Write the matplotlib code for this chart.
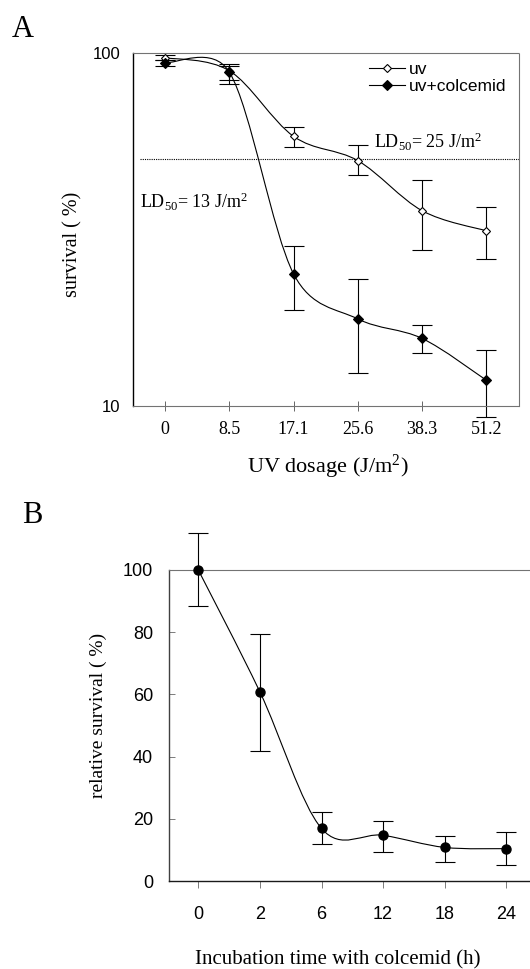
#!/usr/bin/env python3

# UV survival (A) and colcemid incubation survival (B), two stacked panels

import numpy as np
import matplotlib
matplotlib.use('Agg')
from matplotlib import pyplot as plt
from matplotlib.path import Path
from matplotlib.patches import PathPatch
from matplotlib.lines import Line2D
from matplotlib.ticker import NullLocator

params = {
    'font.family': 'Liberation Serif',
    'mathtext.fontset': 'custom',
    'mathtext.rm': 'Liberation Serif',
    'mathtext.it': 'Liberation Serif:italic',
    'mathtext.bf': 'Liberation Serif:bold',
    'figure.dpi': 100,
    'lines.linewidth': 0.8,
}
matplotlib.rcParams.update(params)

# ---- panel A data (survival %, log axis)
dose_labels = ['0', '8.5', '17.1', '25.6', '38.3', '51.2']
uv_surv = [97.0, 89.0, 58.0, 49.5, 35.7, 31.3]
uv_low = [95.5, 81.5, 54.2, 45.1, 27.7, 26.0]
uv_high = [98.7, 92.0, 61.8, 54.7, 43.5, 36.6]
colc_surv = [93.9, 88.2, 23.6, 17.6, 15.5, 11.8]
colc_low = [92.0, 83.8, 18.7, 12.4, 14.1, 9.3]
colc_high = [95.8, 92.9, 28.4, 22.8, 16.9, 14.4]
ld50_level = 50
ld50_uv = 25
ld50_colc = 13

# ---- panel B data (relative survival %)
time_labels = ['0', '2', '6', '12', '18', '24']
rel_surv = [100.0, 60.8, 16.9, 14.7, 10.8, 10.4]
rel_low = [88.4, 41.8, 11.8, 9.4, 6.1, 5.1]
rel_high = [111.8, 79.4, 22.1, 19.4, 14.5, 15.7]

W, H = 530., 969.


def fx(px):
    return px / W


def fy(py):
    return 1. - py / H


def smooth_path(ax, xs, ys):
    # spreadsheet-like "smoothed line": bezier segments built in display space,
    # handle length 1/6 of the chord, capped at half the segment length
    pts = ax.transData.transform(np.column_stack([xs, ys]))
    P = np.vstack([pts[0], pts, pts[-1]])
    verts = [pts[0]]
    codes = [Path.MOVETO]
    for i in range(len(pts) - 1):
        p0, p1, p2, p3 = P[i], P[i+1], P[i+2], P[i+3]
        d12 = np.hypot(*(p2 - p1))
        d02 = np.hypot(*(p2 - p0))
        d13 = np.hypot(*(p3 - p1))
        f0 = 1. / 6. if d02 / 6. < d12 / 2. else d12 / 2. / d02
        f1 = 1. / 6. if d13 / 6. < d12 / 2. else d12 / 2. / d13
        verts += [p1 + f0 * (p2 - p0), p2 - f1 * (p3 - p1), p2]
        codes += [Path.CURVE4] * 3
    verts = ax.transData.inverted().transform(np.array(verts))
    return Path(verts, codes)


def err_bars(ax, x, y, lo, hi, capsize=7):
    y = np.asarray(y)
    yerr = [y - np.asarray(lo), np.asarray(hi) - y]
    eb = ax.errorbar(x, y, yerr=yerr, fmt='none', ecolor='black',
                     elinewidth=0.8, capsize=capsize, capthick=0.8, zorder=2)
    for art in eb.get_children():
        art.set_clip_on(False)


dotted = (0, (1, 1))
fig = plt.figure(figsize=(W / 100., H / 100.))

#-----------------------------------------------------------------
# Panel A
#-----------------------------------------------------------------
axA = fig.add_axes([fx(132.5), fy(405.5), (519 - 132.5) / W, (405.5 - 53) / H])
xA = np.arange(len(dose_labels))
axA.set_yscale('log')
axA.set_xlim(-0.51, 5.51)
axA.set_ylim(10, 100)

axA.add_patch(PathPatch(smooth_path(axA, xA, uv_surv), fill=False,
                        edgecolor='black', lw=0.8, zorder=3))
axA.add_patch(PathPatch(smooth_path(axA, xA, colc_surv), fill=False,
                        edgecolor='black', lw=0.8, zorder=3))
err_bars(axA, xA, uv_surv, uv_low, uv_high)
err_bars(axA, xA, colc_surv, colc_low, colc_high)
axA.plot(xA, uv_surv, ls='none', marker='D', mfc='white', mec='black',
         ms=4.5, mew=0.8, zorder=5, clip_on=False)
axA.plot(xA, colc_surv, ls='none', marker='D', mfc='black', mec='black',
         ms=5.5, mew=0.8, zorder=5, clip_on=False)

axA.axhline(ld50_level, xmin=0.02, xmax=1, color='black', lw=0.8, ls=dotted)

axA.yaxis.set_minor_locator(NullLocator())
axA.set_yticks([10, 100])
axA.set_yticklabels(['10', '100'], fontfamily='Liberation Sans', fontsize=12)
axA.tick_params(axis='y', length=0, pad=9)
axA.set_xticks(xA)
axA.set_xticklabels(dose_labels, fontsize=13)
axA.tick_params(axis='x', direction='inout', length=7, width=0.6,
                color='0.3', pad=8)

axA.spines['left'].set_color('black')
axA.spines['left'].set_linewidth(1.0)
for s in ['top', 'right', 'bottom']:
    axA.spines[s].set_linestyle(dotted)
    axA.spines[s].set_color('0.45')
    axA.spines[s].set_linewidth(0.8)

handles = [
    Line2D([], [], color='black', lw=0.8, marker='D', mfc='white', mec='black',
           ms=4.5, mew=0.8),
    Line2D([], [], color='black', lw=0.8, marker='D', mfc='black', mec='black',
           ms=5.5, mew=0.8),
]
axA.legend(handles, ['uv', 'uv+colcemid'], loc='upper left',
           bbox_to_anchor=(fx(369), fy(62)), bbox_transform=fig.transFigure,
           frameon=False, prop={'family': 'Liberation Sans', 'size': 12.5},
           handlelength=2.1, handletextpad=0.2, labelspacing=0.1,
           borderpad=0, borderaxespad=0, numpoints=1)

fig.text(fx(373.5), fy(148), r'LD$_{50}$= %d J/m$^{2}$' % ld50_uv,
         fontsize=13, ha='left', va='baseline')
fig.text(fx(139.5), fy(208), r'LD$_{50}$= %d J/m$^{2}$' % ld50_colc,
         fontsize=13, ha='left', va='baseline')

fig.text(fx(72.5), fy(244), 'survival ( %)', rotation=90, fontsize=14.5,
         ha='center', va='center')
fig.text(fx(327.5), fy(467), r'UV dosage (J/m$^2$)', fontsize=16,
         ha='center', va='center')
fig.text(fx(12), fy(37), 'A', fontsize=22, ha='left', va='baseline')

#-----------------------------------------------------------------
# Panel B
#-----------------------------------------------------------------
axB = fig.add_axes([fx(169), fy(881), (530 - 169) / W, (881 - 570) / H])
xB = np.arange(len(time_labels))
axB.set_xlim(-0.476, 5.385)
axB.set_ylim(0, 100)

axB.add_patch(PathPatch(smooth_path(axB, xB, rel_surv), fill=False,
                        edgecolor='black', lw=0.8, zorder=3))
err_bars(axB, xB, rel_surv, rel_low, rel_high)
axB.plot(xB, rel_surv, ls='none', marker='o', mfc='black', mec='black',
         ms=6.5, zorder=5, clip_on=False)

axB.set_yticks([0, 20, 40, 60, 80, 100])
axB.set_yticklabels(['0', '20', '40', '60', '80', '100'],
                    fontfamily='Liberation Sans', fontsize=13)
axB.tick_params(axis='y', direction='in', length=4, width=0.6,
                color='0.4', pad=11.5)
axB.set_xticks(xB)
axB.set_xticklabels(time_labels, fontfamily='Liberation Sans', fontsize=13)
axB.tick_params(axis='x', direction='out', length=5, width=0.6,
                color='0.4', pad=13)

axB.spines['left'].set_color('0.25')
axB.spines['bottom'].set_color('0.1')
axB.spines['left'].set_linewidth(1.0)
axB.spines['bottom'].set_linewidth(1.0)
axB.spines['top'].set_linestyle(dotted)
axB.spines['top'].set_color('0.45')
axB.spines['top'].set_linewidth(0.8)
axB.spines['right'].set_visible(False)

fig.text(fx(98), fy(715), 'relative survival ( %)', rotation=90, fontsize=14,
         ha='center', va='center')
fig.text(fx(338), fy(960), 'Incubation time with colcemid (h)', fontsize=15,
         ha='center', va='center')
fig.text(fx(22), fy(523), 'B', fontsize=22, ha='left', va='baseline')

plt.savefig('out.png', dpi=100)
